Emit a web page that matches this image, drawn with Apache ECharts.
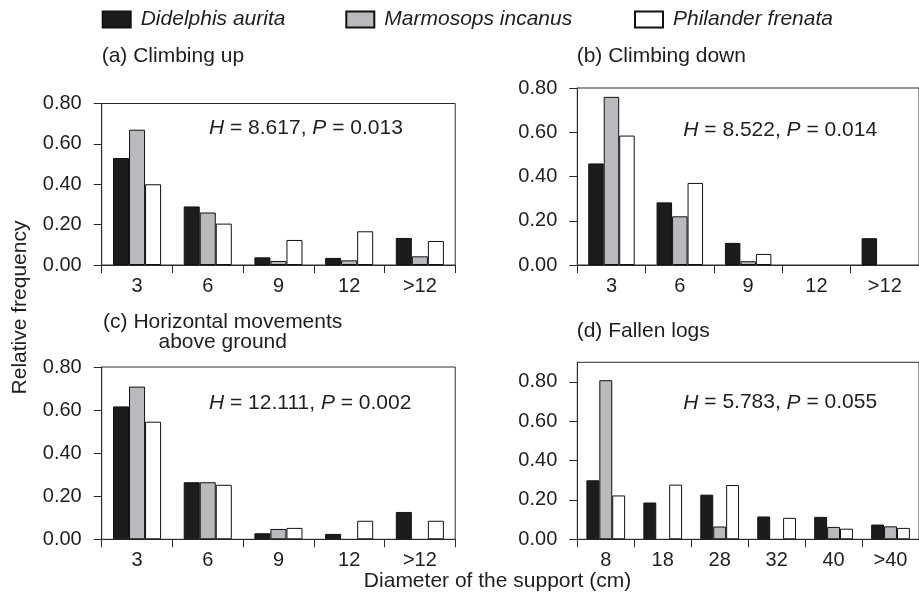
<!DOCTYPE html>
<html><head><meta charset="utf-8">
<script src="https://cdn.jsdelivr.net/npm/echarts@6/dist/echarts.min.js"></script>
<style>html,body{margin:0;padding:0;background:#fff}#c{width:919px;height:598px}</style>
</head><body><div id="c"></div>
<script>
// ---- data ----
const speciesNames = ['Didelphis aurita', 'Marmosops incanus', 'Philander frenata'];
const catsSmall = ['3', '6', '9', '12', '>12'];
const catsLogs = ['8', '18', '28', '32', '40', '>40'];
const yTicks = [0, 0.2, 0.4, 0.6, 0.8];

// (a) Climbing up
const upDidelphis = [0.53, 0.29, 0.038, 0.035, 0.134];
const upMarmosops = [0.67, 0.26, 0.02, 0.023, 0.043];
const upPhilander = [0.40, 0.205, 0.124, 0.167, 0.119];
// (b) Climbing down
const downDidelphis = [0.459, 0.283, 0.10, 0, 0.121];
const downMarmosops = [0.76, 0.22, 0.017, 0, 0];
const downPhilander = [0.585, 0.371, 0.05, 0, 0];
// (c) Horizontal movements above ground
const horDidelphis = [0.617, 0.265, 0.028, 0.025, 0.127];
const horMarmosops = [0.709, 0.265, 0.048, 0, 0];
const horPhilander = [0.546, 0.253, 0.053, 0.086, 0.086];
// (d) Fallen logs
const logDidelphis = [0.30, 0.187, 0.227, 0.116, 0.114, 0.075];
const logMarmosops = [0.809, 0, 0.065, 0, 0.063, 0.066];
const logPhilander = [0.223, 0.278, 0.276, 0.109, 0.054, 0.058];

const panelTitles = ['(a) Climbing up', '(b) Climbing down', '(c) Horizontal movements\nabove ground', '(d) Fallen logs'];
const stats = [['8.617', '0.013'], ['8.522', '0.014'], ['12.111', '0.002'], ['5.783', '0.055']];
const yTitle = 'Relative frequency';
const xTitle = 'Diameter of the support (cm)';

// ---- styles ----
const FONT = 'Liberation Sans, Arial, Helvetica, sans-serif';
const TXT = '#1e1e1e';
const LINE = '#2a2a2a';
const fills = ['#1c1c1c', '#b9babd', '#ffffff'];

const grids = [
  {left: 101.7, top: 103.5, width: 353.5, height: 161.5},
  {left: 577.3, top: 88, width: 353, height: 177},
  {left: 101.7, top: 367, width: 353.5, height: 172.3},
  {left: 577.3, top: 362.3, width: 354, height: 177}
];
const yMax = [0.8, 0.8, 0.8, 0.9];
const panelCats = [catsSmall, catsSmall, catsSmall, catsLogs];
const panelData = [
  [upDidelphis, upMarmosops, upPhilander],
  [downDidelphis, downMarmosops, downPhilander],
  [horDidelphis, horMarmosops, horPhilander],
  [logDidelphis, logMarmosops, logPhilander]
];

const option = {
  animation: false,
  backgroundColor: '#fff',
  textStyle: {fontFamily: FONT, color: TXT},
  grid: grids.map(g => Object.assign({show: true, borderColor: LINE, borderWidth: 1, backgroundColor: 'transparent'}, g)),
  xAxis: panelCats.map((cats, i) => ({
    type: 'category', gridIndex: i, data: cats,
    axisLine: {show: true, lineStyle: {color: LINE, width: 1}},
    axisTick: {show: true, length: 8, inside: false, alignWithLabel: false, lineStyle: {color: LINE, width: 1}},
    axisLabel: {margin: 11, fontSize: 20, color: TXT, fontFamily: FONT, interval: 0},
    splitLine: {show: false}
  })),
  yAxis: yMax.map((m, i) => ({
    type: 'value', gridIndex: i, min: 0, max: m, interval: 0.2,
    axisLine: {show: true, lineStyle: {color: LINE, width: 1}},
    axisTick: {show: true, length: 8, inside: false, customValues: yTicks, lineStyle: {color: LINE, width: 1}},
    axisLabel: {margin: 20, fontSize: 20, color: TXT, fontFamily: FONT, customValues: yTicks,
      formatter: v => v.toFixed(2)},
    splitLine: {show: false}
  })),
  legend: speciesNames.map((n, k) => ({
    data: [n], left: [101.7, 345.3, 634][k], top: 9, itemWidth: 28, itemHeight: 16, icon: 'rect',
    selectedMode: false, padding: 0,
    textStyle: {fontSize: 21, fontStyle: 'italic', color: TXT, fontFamily: FONT, padding: [0, 0, 0, 5]}
  })),
  series: [],
  graphic: []
};

panelData.forEach((sets, i) => {
  sets.forEach((vals, k) => {
    option.series.push({
      type: 'bar', name: speciesNames[k], xAxisIndex: i, yAxisIndex: i,
      data: vals.map(v => v === 0 ? {value: v, itemStyle: {borderWidth: 0, opacity: 0}} : v),
      barGap: '0%', barCategoryGap: '32%',
      itemStyle: {color: fills[k], borderColor: '#111', borderWidth: 1}
    });
  });
});

const titlePos = [
  {x: 101.7, y: 56.7, align: 'left'},
  {x: 576.7, y: 56.7, align: 'left'},
  {x: 222.7, y: 322, align: 'center'},
  {x: 576.7, y: 331, align: 'left'}
];
panelTitles.forEach((t, i) => {
  const p = titlePos[i];
  const twoLine = t.indexOf('\n') >= 0;
  option.graphic.push({
    type: 'text', x: p.x, y: twoLine ? p.y - 10 : p.y,
    style: {text: t, fontSize: 21, fontFamily: FONT, fill: TXT, align: p.align,
      verticalAlign: twoLine ? 'top' : 'middle', lineHeight: 20}
  });
});

const statPos = [[209, 128.3], [683.3, 130], [209, 403.3], [683.3, 402.7]];
stats.forEach((s, i) => {
  option.graphic.push({
    type: 'text', x: statPos[i][0], y: statPos[i][1],
    style: {
      text: '{i|H} = ' + s[0] + ', {i|P} = ' + s[1],
      fontSize: 21, fontFamily: FONT, fill: TXT, align: 'left', verticalAlign: 'middle',
      rich: {i: {fontStyle: 'italic', fontSize: 21, fontFamily: FONT, fill: TXT}}
    }
  });
});

option.graphic.push({
  type: 'text', x: 20, y: 307.5, rotation: Math.PI / 2,
  style: {text: yTitle, fontSize: 21, fontFamily: FONT, fill: TXT, align: 'center', verticalAlign: 'middle'}
});
option.graphic.push({
  type: 'text', x: 497.5, y: 581.5,
  style: {text: xTitle, fontSize: 21, fontFamily: FONT, fill: TXT, align: 'center', verticalAlign: 'middle'}
});

const chart = echarts.init(document.getElementById('c'), null, {renderer: 'canvas'});
chart.setOption(option);
</script>
</body></html>
